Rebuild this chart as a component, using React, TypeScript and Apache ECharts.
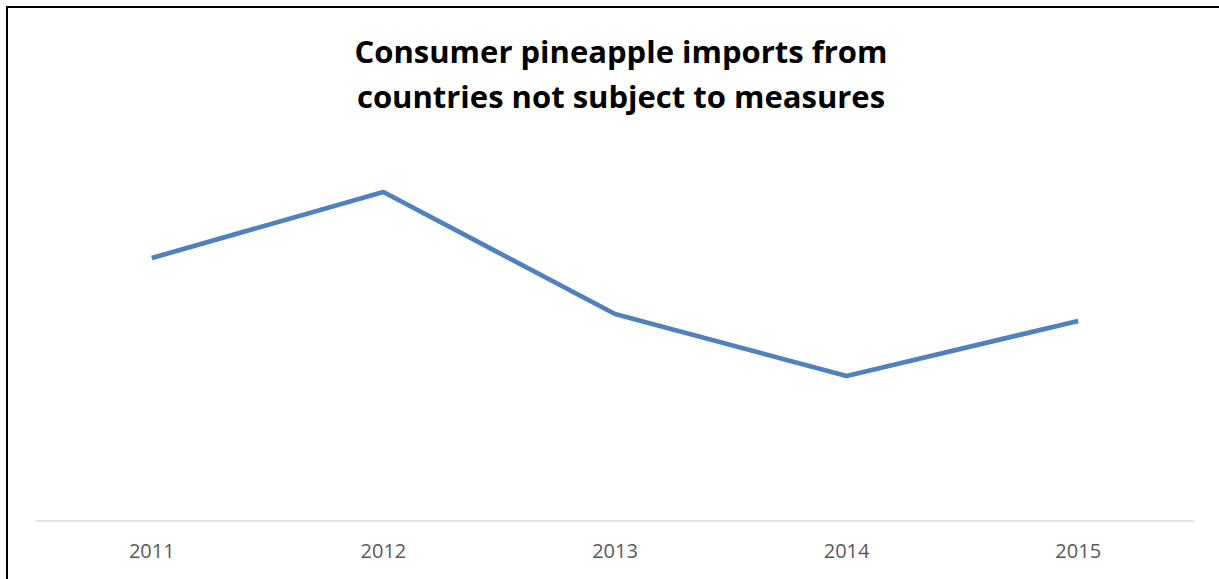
import React, { useEffect, useRef } from "react";
import * as echarts from "echarts";

const categories = ["2011", "2012", "2013", "2014", "2015"];
const imports = [263, 329, 207, 145, 200];
const titleLines = ["Consumer pineapple imports from", "countries not subject to measures"];

export default function App() {
  const ref = useRef<HTMLDivElement>(null);
  useEffect(() => {
    const chart = echarts.init(ref.current!, null, { renderer: "svg" });
    chart.setOption({
      animation: false,
      backgroundColor: "#ffffff",
      title: {
        text: titleLines.join("\n"),
        left: 616,
        top: 23,
        textAlign: "center",
        textStyle: {
          fontFamily: "'Open Sans', sans-serif",
          fontWeight: "bold",
          fontSize: 31,
          lineHeight: 45,
          color: "#000000",
        },
      },
      graphic: [
        {
          type: "rect",
          shape: { x: 7, y: 7, width: 1400, height: 800 },
          style: { fill: "none", stroke: "#000000", lineWidth: 2 },
          silent: true,
        },
      ],
      grid: { left: 36, right: 25, top: 121, bottom: 58 },
      xAxis: {
        type: "category",
        data: categories,
        boundaryGap: true,
        axisLine: { show: true, lineStyle: { color: "#d9d9d9", width: 1.5 } },
        axisTick: { show: false },
        axisLabel: {
          color: "#595959",
          fontSize: 20,
          fontFamily: "'Open Sans', sans-serif",
          margin: 19,
        },
      },
      yAxis: {
        type: "value",
        min: 0,
        max: 400,
        show: false,
        splitLine: { show: false },
      },
      series: [
        {
          type: "line",
          data: imports,
          symbol: "none",
          lineStyle: { color: "#4f81bd", width: 4.75 },
        },
      ],
    });
    return () => chart.dispose();
  }, []);
  return (
    <div
      ref={ref}
      style={{ position: "absolute", left: 0, top: 0, width: 1219, height: 579 }}
    />
  );
}
